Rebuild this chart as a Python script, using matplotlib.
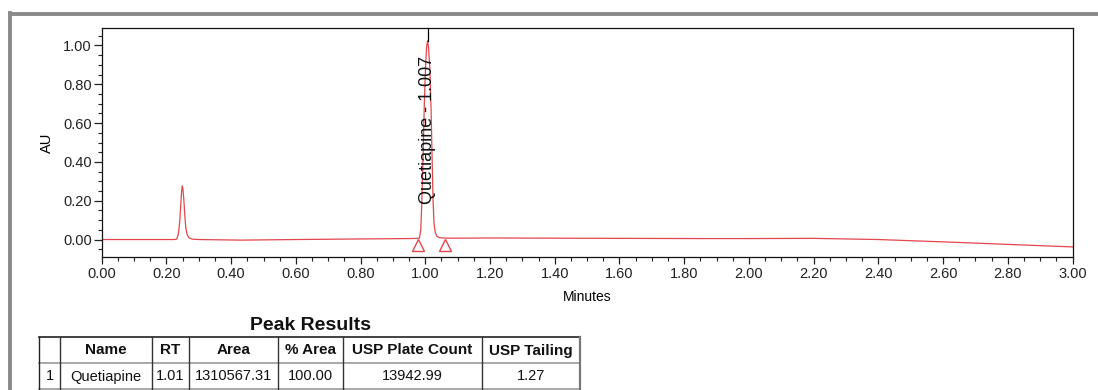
import matplotlib
matplotlib.use("Agg")
import matplotlib.pyplot as plt
from matplotlib.ticker import MultipleLocator, FormatStrFormatter
from matplotlib.lines import Line2D

plt.rcParams['font.family'] = ['Liberation Sans', 'DejaVu Sans']

# ---- chromatogram data ----
time_min = [0.00, 0.10, 0.20, 0.225, 0.232, 0.237, 0.241, 0.244, 0.247, 0.249,
            0.251, 0.254, 0.257, 0.260, 0.264, 0.270, 0.280, 0.30, 0.43, 0.60,
            0.80, 0.95, 0.975, 0.982, 0.986, 0.989, 0.993, 0.997, 1.001, 1.004,
            1.007, 1.010, 1.014, 1.018, 1.021, 1.024, 1.027, 1.031, 1.036, 1.045,
            1.07, 1.10, 1.20, 1.40, 1.60, 1.85, 2.00, 2.20, 2.40, 2.60,
            2.80, 3.00]
absorbance = [0.000, 0.000, 0.000, 0.000, 0.003, 0.030, 0.090, 0.170, 0.250, 0.276,
              0.262, 0.200, 0.120, 0.060, 0.025, 0.008, 0.002, 0.000, -0.003, 0.000,
              0.003, 0.005, 0.006, 0.008, 0.050, 0.180, 0.420, 0.700, 0.900, 0.990,
              1.025, 0.990, 0.880, 0.660, 0.420, 0.200, 0.080, 0.035, 0.016, 0.009,
              0.007, 0.007, 0.008, 0.007, 0.006, 0.005, 0.005, 0.006, 0.000, -0.012,
              -0.025, -0.038]

peak_name = "Quetiapine"
peak_rt = 1.007
peak_apex = 1.025
peak_label_pos = 0.185
baseline_marks_t = [0.978, 1.061]
baseline_marks_y = [-0.029, -0.029]

x_ticks = [0.00, 0.20, 0.40, 0.60, 0.80, 1.00, 1.20, 1.40, 1.60, 1.80,
           2.00, 2.20, 2.40, 2.60, 2.80, 3.00]
y_ticks = [0.00, 0.20, 0.40, 0.60, 0.80, 1.00]

# ---- table data ----
table_title = "Peak Results"
table_headers = ["", "Name", "RT", "Area", "% Area", "USP Plate Count", "USP Tailing"]
table_row = ["1", "Quetiapine", "1.01", "1310567.31", "100.00", "13942.99", "1.27"]

W, H = 1098, 390
fig = plt.figure(figsize=(W / 100, H / 100), dpi=100)

red = '#e2474c'

ax = fig.add_axes([101.7 / W, 1 - 257 / H, (1072.5 - 101.7) / W, (257 - 28) / H])
ax.plot(time_min, absorbance, color=red, lw=0.9)
ax.plot(baseline_marks_t, baseline_marks_y, linestyle='none', marker='^',
        markersize=9, markerfacecolor='none', markeredgecolor=red, markeredgewidth=1.0)
ax.plot([peak_rt, peak_rt], [peak_apex, 1.09], color='black', lw=0.9)
ax.text(peak_rt, peak_label_pos, f"{peak_name} - {peak_rt:.3f}", rotation=90,
        ha='center', va='bottom', fontsize=13, color='#111111')

ax.set_xlim(0, 3.0)
ax.set_ylim(-0.09, 1.09)
ax.set_xticks(x_ticks)
ax.set_yticks(y_ticks)
ax.xaxis.set_minor_locator(MultipleLocator(0.05))
ax.yaxis.set_minor_locator(MultipleLocator(0.05))
ax.xaxis.set_major_formatter(FormatStrFormatter('%.2f'))
ax.yaxis.set_major_formatter(FormatStrFormatter('%.2f'))
ax.tick_params(which='major', direction='out', length=5.5, width=0.9, labelsize=10.5,
               pad=1.5, colors='#222222')
ax.tick_params(which='minor', direction='out', length=2.8, width=0.8, colors='#222222')
ax.tick_params(axis='x', which='major', length=5, pad=2.5)
for s in ax.spines.values():
    s.set_linewidth(0.9)
    s.set_color('#111111')
ax.set_xlabel("Minutes", fontsize=10, labelpad=6)
ax.set_ylabel("AU", fontsize=10.5, labelpad=7)

# ---- overlay axes for page frame and table (pixel coordinates) ----
ov = fig.add_axes([0, 0, 1, 1], zorder=5)
ov.set_xlim(0, W)
ov.set_ylim(H, 0)
ov.axis('off')
ov.patch.set_alpha(0)

frame_col = '#8a8a8a'
ov.add_line(Line2D([10, W], [14, 14], color=frame_col, lw=2.8))
ov.add_line(Line2D([10, 10], [13, H], color=frame_col, lw=2.8))

col_edges = [39, 60, 152, 189, 278, 343, 482, 580]
row_edges = [337, 363, 389]

ov.text((col_edges[0] + col_edges[-1]) / 2 + 0.5, 325, table_title, ha='center', va='center',
        fontsize=14, fontweight='bold', color='#111111')

# horizontal lines
ov.add_line(Line2D([col_edges[0], col_edges[-1]], [row_edges[0]] * 2, color='#222222', lw=1.2))
ov.add_line(Line2D([col_edges[0], col_edges[-1]], [row_edges[1]] * 2, color='#999999', lw=1.2))
ov.add_line(Line2D([col_edges[0], col_edges[-1]], [row_edges[2]] * 2, color='#999999', lw=1.2))
# vertical lines
for i, cx in enumerate(col_edges):
    c = '#222222' if i == 0 else ('#777777' if i == len(col_edges) - 1 else '#333333')
    lw = 1.6 if i == len(col_edges) - 1 else 1.0
    ov.add_line(Line2D([cx, cx], [row_edges[0], row_edges[2]], color=c, lw=lw))

for i in range(len(table_headers)):
    cx = (col_edges[i] + col_edges[i + 1]) / 2
    if table_headers[i]:
        ov.text(cx, (row_edges[0] + row_edges[1]) / 2 + 0.5, table_headers[i], ha='center',
                va='center', fontsize=11, fontweight='bold', color='#111111')
    ov.text(cx, (row_edges[1] + row_edges[2]) / 2 + 0.5, table_row[i], ha='center',
            va='center', fontsize=10.5, color='#111111')

fig.savefig("out.png", dpi=100)
